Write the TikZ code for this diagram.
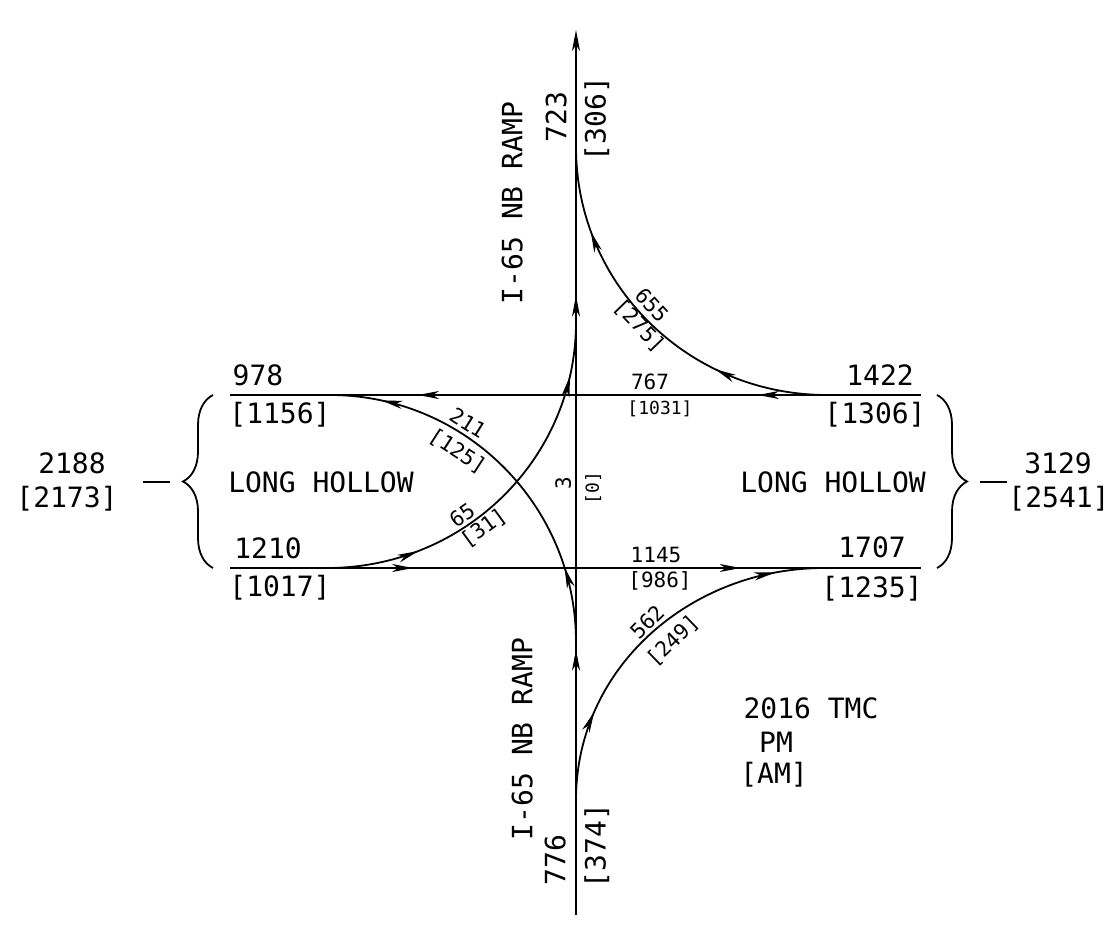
\documentclass[tikz,border=0pt]{standalone}
\usepackage{fontspec}
\setmainfont{DejaVu Sans Mono}
\usetikzlibrary{arrows.meta, decorations.markings, decorations.pathreplacing}

\begin{document}
\begin{tikzpicture}[x=1pt, y=-1pt,
    >={Stealth[length=21pt, width=8pt, inset=6pt]},
    road/.style={line width=1.8pt},
    flow/.style={postaction={decorate, decoration={markings,
        mark=at position #1 with {\arrow{>}}}}},
    numbig/.style={inner sep=0pt, text depth=0pt, font=\fontsize{28}{30}\selectfont},
    nummid/.style={inner sep=0pt, text depth=0pt, font=\fontsize{21}{23}\selectfont},
    numsml/.style={inner sep=0pt, text depth=0pt, font=\fontsize{18}{20}\selectfont},
    brc/.style={line width=1.8pt, decorate, decoration={brace, amplitude=30pt}}
  ]
    \useasboundingbox (0,0) rectangle (1110,929);

    % road ends
    \coordinate (nN)  at (576,30);
    \coordinate (nS)  at (576,915);
    \coordinate (wbE) at (921,395);
    \coordinate (wbW) at (230,395);
    \coordinate (ebW) at (230,568);
    \coordinate (ebE) at (921,568);

    % turn ends
    \coordinate (rtWB)   at (827,395);
    \coordinate (rtUp)   at (576,147);
    \coordinate (ltEB)   at (327,568);
    \coordinate (ltUp)   at (576,322);
    \coordinate (ltRamp) at (576,642);
    \coordinate (ltWB)   at (330,395);
    \coordinate (rtRamp) at (576,800);
    \coordinate (rtEB)   at (824,568);

    % through movements
    \draw[road, ->, flow=0.30, flow=0.70] (nS) -- (nN);
    \draw[road, flow=0.236, flow=0.728] (wbE) -- (wbW);
    \draw[road, flow=0.265, flow=0.739] (ebW) -- (ebE);

    % turning movements
    \draw[road, flow=0.295, flow=0.78]  (rtWB)   to[out=180, in=-90] (rtUp);
    \draw[road, flow=0.24,  flow=0.86]  (ltEB)   to[out=0,   in=-90] (ltUp);
    \draw[road, flow=0.196, flow=0.866] (ltRamp) to[out=90,  in=0]   (ltWB);
    \draw[road, flow=0.24,  flow=0.87]  (rtRamp) to[out=90,  in=180] (rtEB);

    % braces
    \draw[brc] (213,568) -- (213,395);
    \draw[brc] (937,395) -- (937,568);
    \coordinate (wDashA) at (143,482);
    \coordinate (wDashB) at (170,482);
    \coordinate (eDashA) at (980,482);
    \coordinate (eDashB) at (1007,482);
    \draw[road] (wDashA) -- (wDashB);
    \draw[road] (eDashA) -- (eDashB);

    % ramp labels
    \node[numbig, rotate=90] (rampN) at (512,203) {I-65 NB RAMP};
    \node[numbig, rotate=90] (rampS) at (522,739) {I-65 NB RAMP};
    \node[numbig, rotate=90] (nPM) at (556,117) {723};
    \node[numbig, rotate=90] (nAM) at (595,119) {[306]};
    \node[numbig, rotate=90] (sPM) at (555,860) {776};
    \node[numbig, rotate=90] (sAM) at (595,846) {[374]};

    % approach volumes
    \node[numbig] (wbWpm) at (258,375) {978};
    \node[numbig] (wbWam) at (280,413) {[1156]};
    \node[numbig] (ebWpm) at (268,548) {1210};
    \node[numbig] (ebWam) at (280,586) {[1017]};
    \node[numbig] (wbEpm) at (880,375) {1422};
    \node[numbig] (wbEam) at (875,413) {[1306]};
    \node[numbig] (ebEpm) at (872,547) {1707};
    \node[numbig] (ebEam) at (872,587) {[1235]};

    \node[numbig] (westName) at (321,482) {LONG HOLLOW};
    \node[numbig] (eastName) at (833,482) {LONG HOLLOW};
    \node[numbig] (westPM) at (72,463)   {2188};
    \node[numbig] (westAM) at (67,497)   {[2173]};
    \node[numbig] (eastPM) at (1058,463) {3129};
    \node[numbig] (eastAM) at (1059,497) {[2541]};

    % movement volumes
    \node[nummid] (wbThr)   at (650,382) {767};
    \node[numsml] (wbThrAM) at (660,408) {[1031]};
    \node[nummid] (ebThr)   at (656,555) {1145};
    \node[nummid] (ebThrAM) at (660,580) {[986]};
    \node[nummid, rotate=90] (nbThr)   at (563,483) {3};
    \node[numsml, rotate=90] (nbThrAM) at (592,488) {[0]};

    \node[nummid, rotate=-32] (nbL)   at (468,423) {211};
    \node[nummid, rotate=-33] (nbLAM) at (458,450) {[125]};
    \node[nummid, rotate=35]  (ebL)   at (462,515) {65};
    \node[nummid, rotate=36]  (ebLAM) at (483,527) {[31]};
    \node[nummid, rotate=-48] (wbR)   at (652,305) {655};
    \node[nummid, rotate=-46] (wbRAM) at (640,325) {[275]};
    \node[nummid, rotate=45]  (nbR)   at (647,622) {562};
    \node[nummid, rotate=44]  (nbRAM) at (672,640) {[249]};

    % count note
    \node[numbig] (ttl) at (811,708) {2016 TMC};
    \node[numbig] (pm)  at (776,742) {PM};
    \node[numbig] (am)  at (774,773) {[AM]};
  \end{tikzpicture}
\end{document}
